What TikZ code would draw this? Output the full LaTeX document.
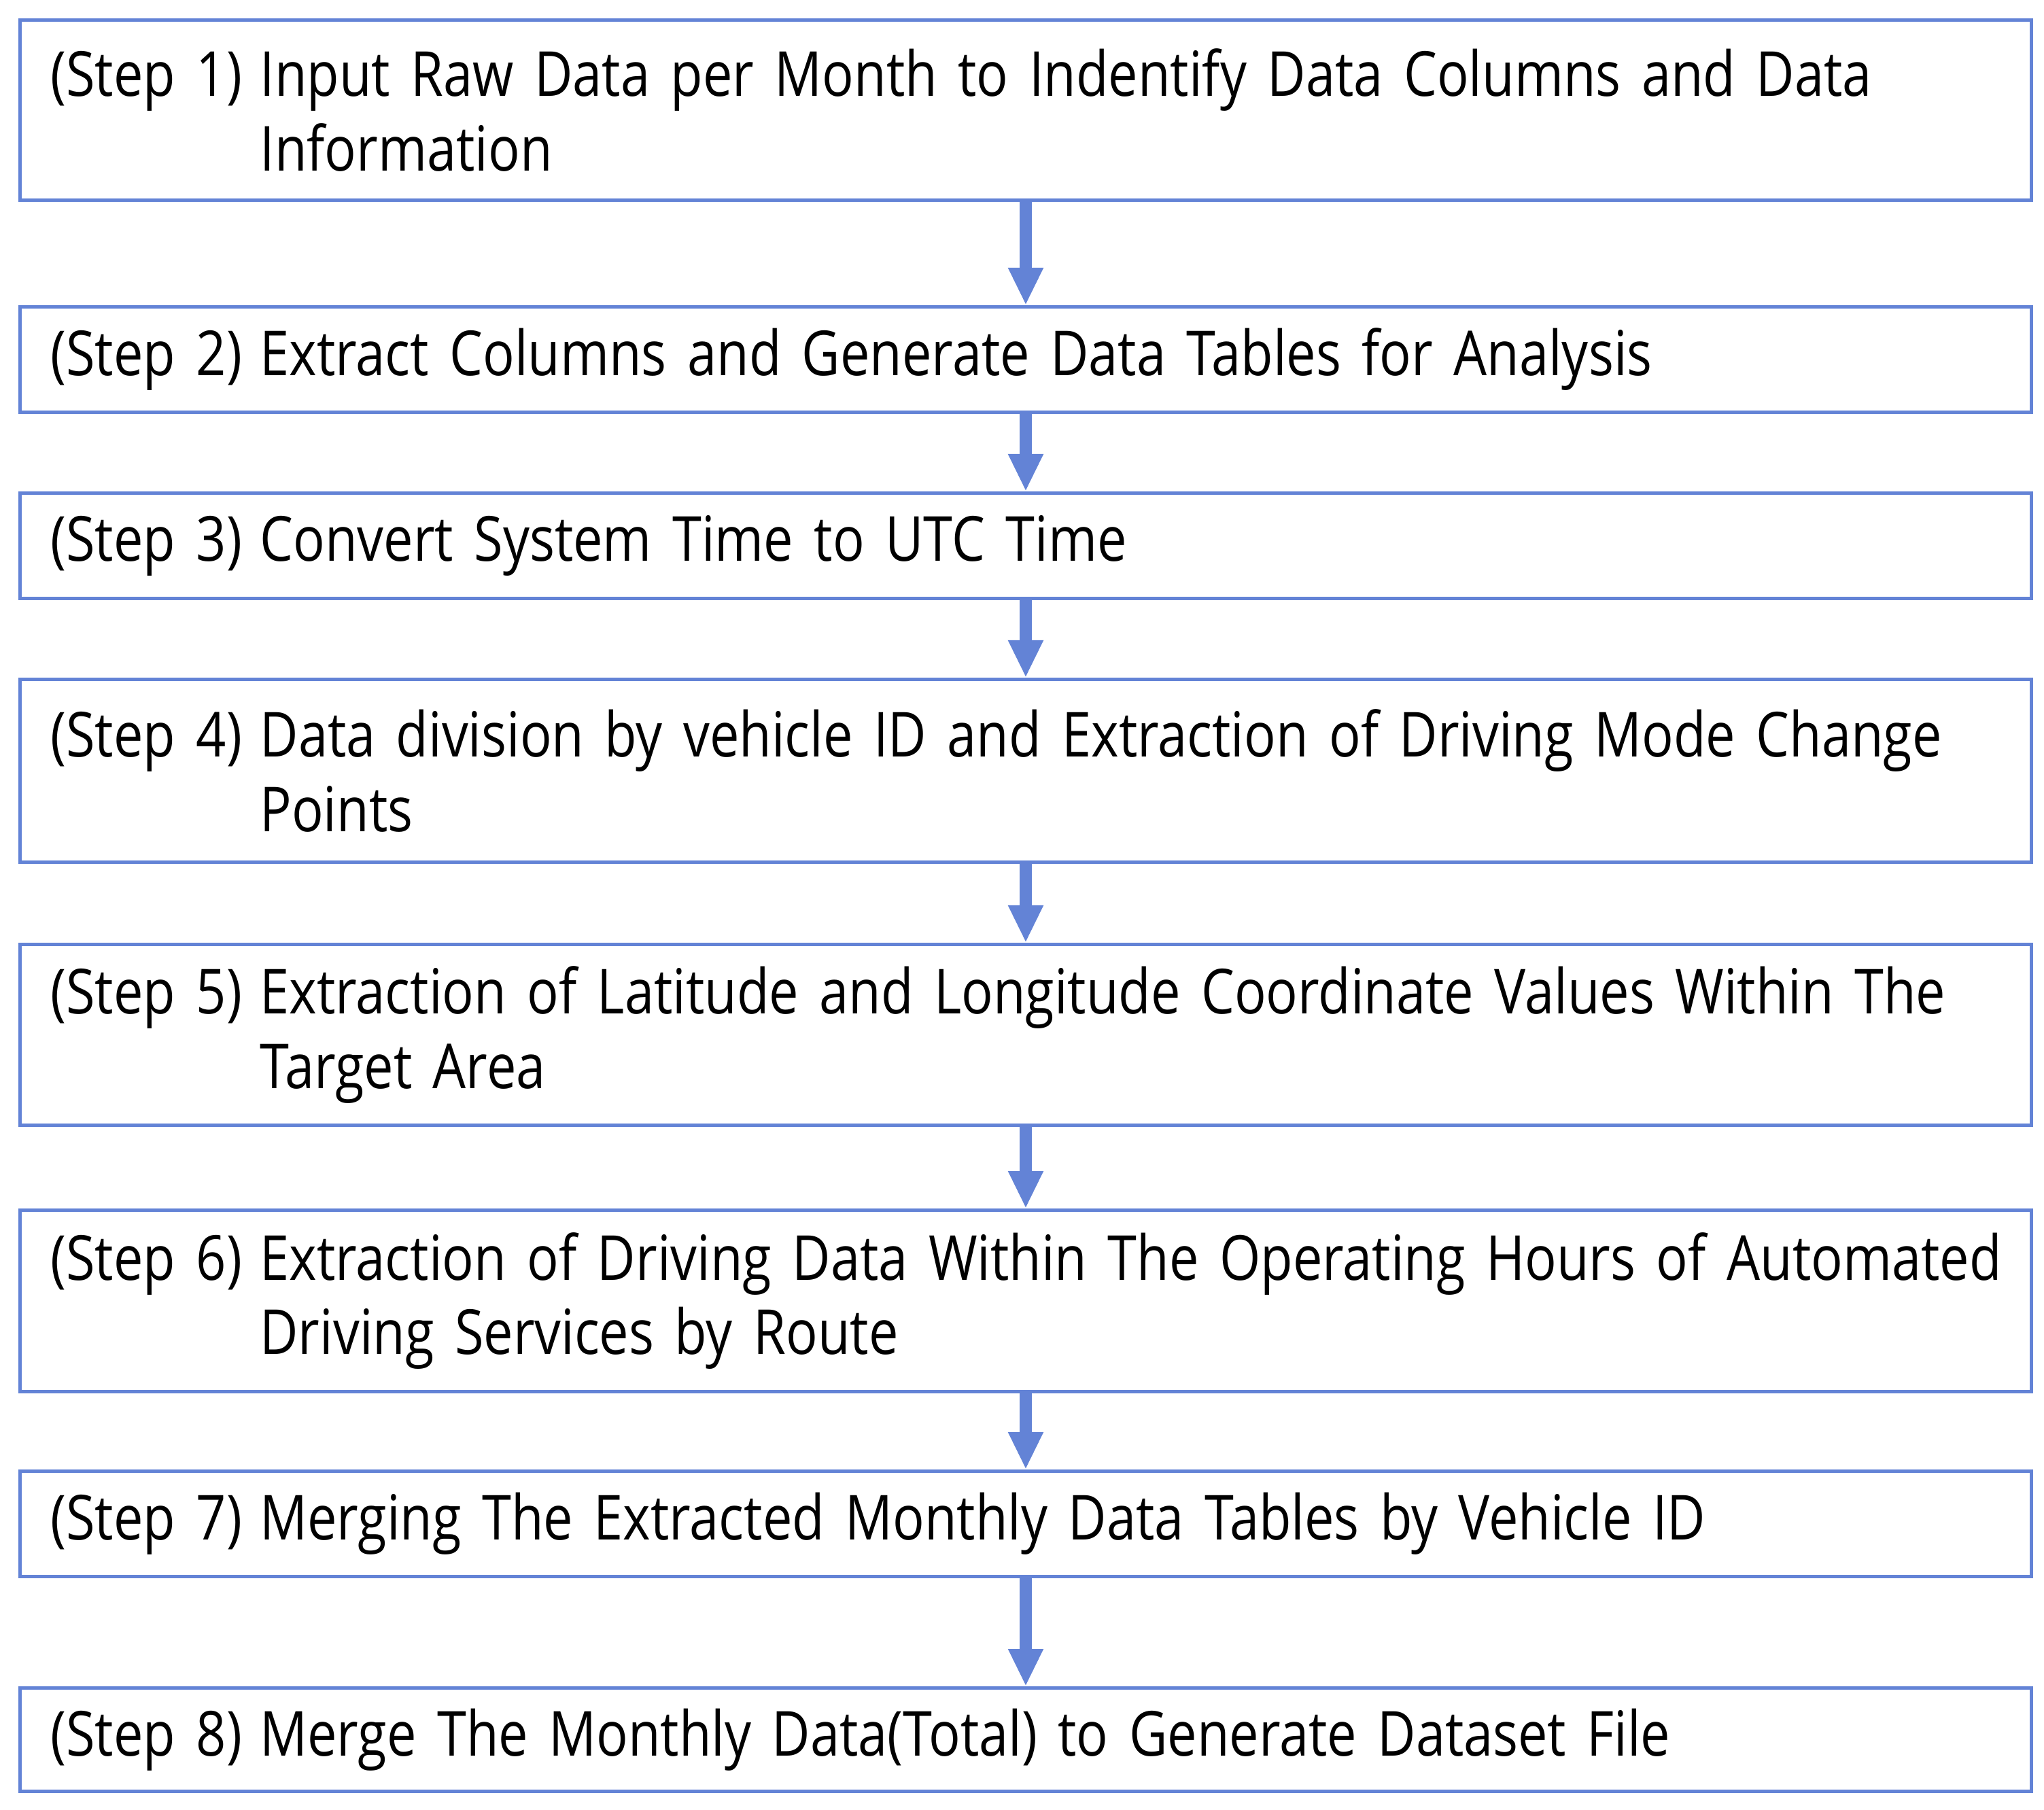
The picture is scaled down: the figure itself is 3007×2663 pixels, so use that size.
\documentclass[tikz,border=0pt]{standalone}
\usepackage{fontspec}
\setmainfont{Open Sans}[FakeStretch=0.848]
\usetikzlibrary{arrows.meta}
\definecolor{boxblue}{HTML}{6383D6}
\newcommand{\stepone}[2]{\mbox{\makebox[30.8mm][l]{#1}#2}}
\newcommand{\steptwo}[3]{\mbox{\makebox[30.8mm][l]{#1}#2}\\\mbox{\hspace*{30.8mm}#3}}
\begin{document}
\begin{tikzpicture}[x=0.1mm,y=-0.1mm,
  stepbox/.style={draw=boxblue, line width=0.5mm, anchor=north west,
    minimum width=295.9mm, inner xsep=4.5mm, inner ysep=0pt,
    text width=286.9mm, align=left,
    font=\fontsize{26}{31.2}\selectfont},
  flow/.style={draw=boxblue, line width=1.8mm,
    -{Triangle[width=4.8mm,length=5.5mm]}}]
\fill[white] (0,0) rectangle (3007,2663);
\useasboundingbox (0,0) rectangle (3007,2663);
\node[stepbox, minimum height=26.5mm] (s1) at (27,27)
  {\steptwo{(Step 1)}{Input Raw Data per Month to Indentify Data Columns and Data}{Information}};
\node[stepbox, minimum height=15.5mm] (s2) at (27,449)
  {\stepone{(Step 2)}{Extract Columns and Generate Data Tables for Analysis}};
\node[stepbox, minimum height=15.5mm] (s3) at (27,723)
  {\stepone{(Step 3)}{Convert System Time to UTC Time}};
\node[stepbox, minimum height=26.9mm] (s4) at (27,997)
  {\steptwo{(Step 4)}{Data division by vehicle ID and Extraction of Driving Mode Change}{Points}};
\node[stepbox, minimum height=26.6mm] (s5) at (27,1387)
  {\steptwo{(Step 5)}{Extraction of Latitude and Longitude Coordinate Values Within The}{Target Area}};
\node[stepbox, minimum height=26.7mm] (s6) at (27,1778)
  {\steptwo{(Step 6)}{Extraction of Driving Data Within The Operating Hours of Automated}{Driving Services by Route}};
\node[stepbox, minimum height=15.5mm] (s7) at (27,2162)
  {\stepone{(Step 7)}{Merging The Extracted Monthly Data Tables by Vehicle ID}};
\node[stepbox, minimum height=15.2mm] (s8) at (27,2481)
  {\stepone{(Step 8)}{Merge The Monthly Data(Total) to Generate Dataset File}};
\draw[flow] (s1.south) -- (s2.north);
\draw[flow] (s2.south) -- (s3.north);
\draw[flow] (s3.south) -- (s4.north);
\draw[flow] (s4.south) -- (s5.north);
\draw[flow] (s5.south) -- (s6.north);
\draw[flow] (s6.south) -- (s7.north);
\draw[flow] (s7.south) -- (s8.north);
\end{tikzpicture}
\end{document}
